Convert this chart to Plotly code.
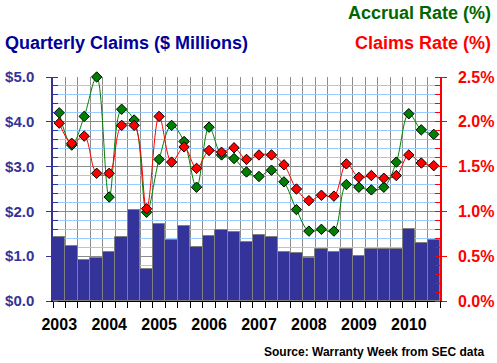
import plotly.graph_objects as go

quarters = list(range(31))
claims = [1.43, 1.22, 0.91, 0.95, 1.09, 1.43, 2.03, 0.72,
          1.72, 1.36, 1.67, 1.20, 1.45, 1.58, 1.54, 1.31,
          1.47, 1.43, 1.09, 1.07, 0.96, 1.17, 1.09, 1.17,
          1.00, 1.16, 1.17, 1.16, 1.60, 1.30, 1.36]
accrual_rate = [2.10, 1.74, 2.06, 2.50, 1.16, 2.14, 2.02, 0.99,
                1.58, 1.96, 1.78, 1.27, 1.94, 1.63, 1.59, 1.44,
                1.39, 1.46, 1.33, 1.02, 0.78, 0.80, 0.78, 1.30,
                1.27, 1.24, 1.27, 1.55, 2.09, 1.91, 1.86]
claims_rate = [1.985, 1.76, 1.84, 1.425, 1.425, 1.96, 1.96, 1.03,
               2.06, 1.55, 1.72, 1.48, 1.68, 1.66, 1.71, 1.58,
               1.63, 1.63, 1.52, 1.25, 1.12, 1.18, 1.17, 1.53,
               1.38, 1.40, 1.37, 1.40, 1.63, 1.54, 1.51]
year_pos = [0, 4, 8, 12, 16, 20, 24, 28]
year_labels = ["2003", "2004", "2005", "2006", "2007", "2008", "2009", "2010"]

FONT = "Liberation Sans, Arial, sans-serif"

fig = go.Figure()
fig.add_trace(go.Bar(
    x=quarters, y=claims, width=1,
    marker=dict(color="#333399", line=dict(color="#808080", width=1)),
    yaxis="y", showlegend=False, hoverinfo="skip"))
fig.add_trace(go.Scatter(
    x=quarters, y=accrual_rate, yaxis="y2", mode="lines+markers", cliponaxis=False,
    line=dict(color="#008000", width=1, shape="spline", smoothing=1.0),
    marker=dict(symbol="diamond", size=8, color="#008000",
                line=dict(color="#000000", width=1)),
    showlegend=False))
fig.add_trace(go.Scatter(
    x=quarters, y=claims_rate, yaxis="y2", mode="lines+markers", cliponaxis=False,
    line=dict(color="#ff0000", width=1, shape="spline", smoothing=1.0),
    marker=dict(symbol="diamond", size=8, color="#ff0000",
                line=dict(color="#000000", width=1)),
    showlegend=False))

fig.update_layout(
    width=497, height=363, autosize=False,
    margin=dict(l=53, r=57, t=77, b=62, autoexpand=False),
    paper_bgcolor="white", plot_bgcolor="white",
    bargap=0,
    font=dict(family=FONT),
    xaxis=dict(
        range=[-0.5, 30.5], tickmode="array", tickvals=year_pos, ticktext=year_labels,
        ticks="", showgrid=False, zeroline=False, automargin=False,
        showline=True, linecolor="#000000", linewidth=1,
        tickfont=dict(family=FONT, size=16, color="#000000", weight="bold"),
        ticklabelstandoff=9,
        minor=dict(tick0=-0.5, dtick=1, showgrid=True, gridcolor="#8c8c8c", gridwidth=1,
                   ticks="outside", ticklen=6, tickcolor="#000000", tickwidth=1),
    ),
    yaxis=dict(
        range=[0, 5], dtick=1, tickformat=".1f", tickprefix="$", automargin=False,
        showgrid=True, gridcolor="#8c8c8c", gridwidth=1, zeroline=False,
        showline=True, linecolor="#333399", linewidth=1.5,
        ticks="outside", ticklen=5, tickcolor="#333399",
        tickfont=dict(family=FONT, size=15, color="#333399", weight="bold"),
        ticklabelstandoff=9,
        minor=dict(dtick=0.2, showgrid=True, gridcolor="#99ccff", gridwidth=1,
                   ticks="inside", ticklen=5, tickcolor="#333399"),
    ),
    yaxis2=dict(
        range=[0, 2.5], dtick=0.5, tickformat=".1f", ticksuffix="%", automargin=False,
        overlaying="y", side="right", showgrid=False, zeroline=False,
        showline=True, linecolor="#ff0000", linewidth=1.5,
        ticks="outside", ticklen=5, tickcolor="#ff0000",
        tickfont=dict(family=FONT, size=16, color="#ff0000", weight="bold"),
        ticklabelstandoff=8,
        minor=dict(dtick=0.1, ticks="inside", ticklen=5, tickcolor="#ff0000"),
    ),
)

annotations = [
    dict(text="Quarterly Claims ($ Millions)", x=2.5, y=43, color="#000099", anchor="left"),
    dict(text="Accrual Rate (%)", x=493, y=12.5, color="#006600", anchor="right"),
    dict(text="Claims Rate (%)", x=493, y=43, color="#ff0000", anchor="right"),
]
L, R, T, B = 53, 440, 77, 301
for a in annotations:
    fig.add_annotation(
        text=a["text"], xref="paper", yref="paper",
        x=(a["x"] - L) / (R - L), y=(B - a["y"]) / (B - T),
        xanchor=a["anchor"], yanchor="middle", showarrow=False,
        font=dict(family=FONT, size=18, color=a["color"], weight="bold"))
fig.add_annotation(
    text="Source: Warranty Week from SEC data", xref="paper", yref="paper",
    x=(486 - L) / (R - L), y=(B - 352) / (B - T), xanchor="right", yanchor="middle",
    showarrow=False, font=dict(family=FONT, size=12, color="#000000", weight="bold"))

fig.write_html("out.html", config={"displayModeBar": False},
               post_script="document.body.style.margin='0';document.body.style.padding='0';"
                           "document.body.style.overflow='hidden';")
